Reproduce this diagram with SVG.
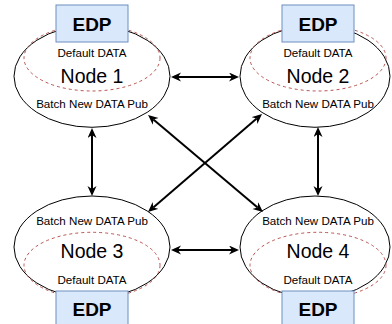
<svg xmlns="http://www.w3.org/2000/svg" width="392" height="324" viewBox="0 0 392 324">
<style>
.ell{fill:#ffffff;stroke:#000000;stroke-width:1}
.dash{fill:none;stroke:#b85450;stroke-width:1;stroke-dasharray:3 3}
.box{fill:#dae8fc;stroke:#6c8ebf;stroke-width:1}
.t{font-family:"Liberation Sans",Arial,sans-serif;fill:#000000;text-anchor:middle}
.s{font-size:11.6px}
.n{font-size:19.5px}
.b{font-size:19px;font-weight:bold}
.c{stroke:#000000;stroke-width:2;fill:none;marker-start:url(#arr);marker-end:url(#arr)}
</style>
<defs>
<marker id="arr" markerUnits="userSpaceOnUse" markerWidth="11" markerHeight="10" refX="3" refY="4.5" orient="auto-start-reverse" viewBox="0 0 11 10">
<path d="M0,0 L10,4.5 L0,9 L3,4.5 z" fill="#000000"/>
</marker>
</defs>
<g id="node1">
<ellipse class="ell" cx="92" cy="76.3" rx="78" ry="51"/>
<ellipse class="dash" cx="92" cy="58" rx="68" ry="33"/>
<text class="t s" x="92" y="57">Default DATA</text>
<text class="t n" x="92" y="83.3">Node 1</text>
<text class="t s" x="92" y="107.5">Batch New DATA Pub</text>
<rect class="box" x="56" y="5" width="72" height="37"/>
<text class="t b" x="92" y="30.5">EDP</text>
</g>
<g id="node2">
<ellipse class="ell" cx="315" cy="76.3" rx="75" ry="51"/>
<ellipse class="dash" cx="318" cy="58" rx="68" ry="33"/>
<text class="t s" x="318" y="57">Default DATA</text>
<text class="t n" x="318" y="83.3">Node 2</text>
<text class="t s" x="318" y="107.5">Batch New DATA Pub</text>
<rect class="box" x="282" y="5" width="72" height="37"/>
<text class="t b" x="318" y="30.5">EDP</text>
</g>
<g id="node3">
<ellipse class="ell" cx="92" cy="247" rx="78" ry="51"/>
<ellipse class="dash" cx="92" cy="265.3" rx="68" ry="33"/>
<text class="t s" x="92" y="225">Batch New DATA Pub</text>
<text class="t n" x="92" y="258.3">Node 3</text>
<text class="t s" x="92" y="284.2">Default DATA</text>
<rect class="box" x="56" y="291" width="72" height="37"/>
<text class="t b" x="92" y="315.8">EDP</text>
</g>
<g id="node4">
<ellipse class="ell" cx="315" cy="247" rx="75" ry="51"/>
<ellipse class="dash" cx="318" cy="265.3" rx="68" ry="33"/>
<text class="t s" x="318" y="225">Batch New DATA Pub</text>
<text class="t n" x="318" y="258.3">Node 4</text>
<text class="t s" x="318" y="284.2">Default DATA</text>
<rect class="box" x="282" y="291" width="72" height="37"/>
<text class="t b" x="318" y="315.8">EDP</text>
</g>
<g id="connectors">
<line class="c" x1="178" y1="77" x2="232" y2="77"/>
<line class="c" x1="178" y1="250" x2="232" y2="250"/>
<line class="c" x1="92" y1="135" x2="92" y2="189"/>
<line class="c" x1="318" y1="134" x2="318" y2="189"/>
<line class="c" x1="153.4" y1="119.5" x2="257.6" y2="207.5"/>
<line class="c" x1="256.7" y1="118.6" x2="153.3" y2="207.4"/>
</g>
</svg>
